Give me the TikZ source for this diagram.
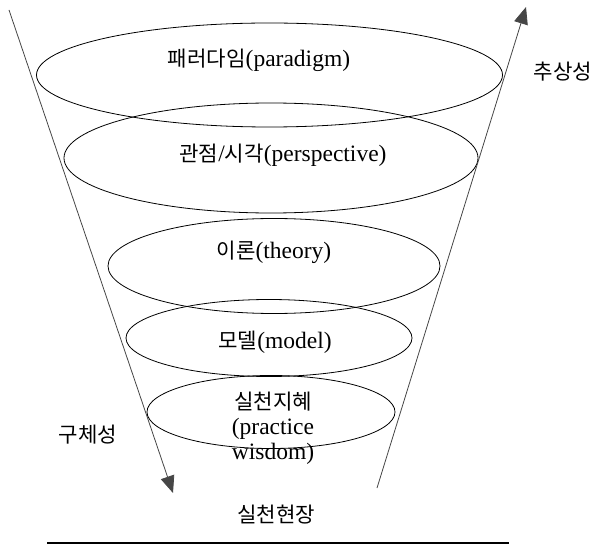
\documentclass[tikz,border=0pt]{standalone}
\usepackage{fontspec}
\setmainfont{Liberation Serif}
\newfontfamily\kr[Scale=0.9]{Noto Sans CJK KR}
\usetikzlibrary{arrows.meta,positioning,shapes.geometric}
\definecolor{linegray}{RGB}{70,70,70}

\begin{document}
\begin{tikzpicture}[
  x=1pt, y=-1pt,
  layer/.style = {ellipse, draw=black, line width=0.8pt, inner sep=0pt},
  lbl/.style = {font=\fontsize{23.5}{25}\selectfont, align=center, inner sep=0pt},
  arr/.style = {-{Triangle[length=17pt,width=14pt]}, line width=0.8pt, linegray}
]
  \useasboundingbox (0,0) rectangle (594,545);

  % funnel layers, top to bottom
  \node[layer, minimum width=466pt, minimum height=104pt] (para)  at (269.5,75) {};
  \node[layer, minimum width=414pt, minimum height=110pt] (persp) at (271,158)  {};
  \node[layer, minimum width=332pt, minimum height=95pt]  (theo)  at (274,266)  {};
  \node[layer, minimum width=286pt, minimum height=77pt]  (model) at (269,338)  {};
  \node[layer, minimum width=248pt, minimum height=73pt]  (wisd)  at (271,412)  {};

  \node[lbl] (paratxt)  at (259,60)  {{\kr 패러다임}(paradigm)};
  \node[lbl] (persptxt) at (283,155) {{\kr 관점}/{\kr 시각}(perspective)};
  \node[lbl] (theotxt)  at (274,252) {{\kr 이론}(theory)};
  \node[lbl] (modeltxt) at (275,342) {{\kr 모델}(model)};
  \node[lbl] (wisdtxt)  at (273,428) {{\kr 실천지혜}\\(practice\\wisdom)};

  % axes
  \coordinate (ltop) at (9,10);
  \coordinate (lbot) at (173,493);
  \coordinate (rbot) at (377,488);
  \coordinate (rtop) at (526,7);
  \draw[arr] (ltop) -- (lbot);
  \draw[arr] (rbot) -- (rtop);

  \node[lbl] (abstr) at (563,72)  {\kr 추상성};
  \node[lbl] (concr) at (88,435)  {\kr 구체성};
  \node[lbl] (field) at (276,515) {\kr 실천현장};

  % ground line
  \coordinate (gl) at (47,543);
  \coordinate (gr) at (509,543);
  \draw[line width=1.5pt] (gl) -- (gr);
\end{tikzpicture}
\end{document}
